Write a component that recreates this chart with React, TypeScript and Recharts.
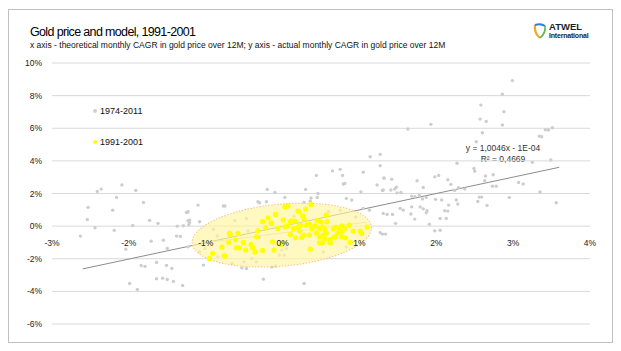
import { ScatterChart, Scatter, XAxis, YAxis, CartesianGrid, ReferenceLine } from 'recharts'

// axis ticks, in percent
const X_TICKS = [-3, -2, -1, 0, 1, 2, 3, 4]
const Y_TICKS = [-6, -4, -2, 0, 2, 4, 6, 8, 10]

// 1974-2011: [theoretical CAGR %, actual CAGR %]
const ALL_POINTS: [number, number][] = [
  [2.99, 8.92], [2.86, 8.08], [2.58, 7.42], [2.88, 7.01], [2.57, 6.56], [2.65, 6.42], [1.93, 6.24],
  [2.86, 6.2], [1.63, 5.95], [3.42, 5.91], [3.46, 5.89], [3.51, 6.03], [2.6, 5.72], [3.34, 5.52],
  [3.37, 5.48], [2.52, 5.17], [3.49, 4.05], [3.25, 3.91], [2.27, 3.85], [1.27, 3.7], [2.49, 3.54],
  [2.5, 3.37], [2.03, 3.11], [1.98, 3.02], [2.74, 3.15], [2.64, 3.07], [1.32, 2.96], [1.42, 2.88],
  [2.63, 2.78], [1.75, 2.78], [2.15, 2.84], [3.07, 2.68], [3.13, 2.58], [1.83, 2.37], [2.19, 2.56],
  [2.78, 2.45], [2.73, 2.45], [1.48, 2.39], [1.46, 2.27], [1.41, 2.21], [1.3, 2.19], [2.29, 2.35],
  [2.37, 2.27], [2.24, 2.19], [1.54, 2.07], [1.49, 2.04], [1.68, 1.84], [1.72, 1.8], [1.78, 1.88],
  [1.87, 1.76], [1.82, 1.67], [1.99, 1.64], [2.56, 1.78], [2.59, 1.78], [2.54, 1.51], [2.95, 1.76],
  [3.35, 2.09], [3.56, 1.43], [2.26, 1.6], [2.28, 1.35], [2.66, 1.27], [2.07, 1.6], [2.16, 1.29],
  [1.79, 1.18], [1.83, 1.06], [1.88, 0.94], [1.87, 0.82], [1.68, 1.18], [1.67, 0.74], [2.11, 0.94],
  [2.15, 0.92], [1.31, 0.78], [1.36, 0.72], [1.43, 0.72], [1.53, 1.09], [1.57, 0.98], [2.05, 0.47],
  [1.72, 0.43], [1.47, 0.17], [2.13, 0.47], [1.91, 0.12], [1.98, -0.29], [1.3, -0.49],
  [-2.09, 2.52], [-2.36, 2.27], [-2.41, 2.13], [-1.91, 2.19], [-2.16, 1.76], [-1.81, 1.45],
  [-2.53, 1.15], [-2.21, 0.98], [-2.54, 0.41], [-1.73, 0.35], [-1.62, 0.17], [-1.95, 0.04],
  [-2.44, -0.1], [-2.19, -0.26], [-2.63, -0.61], [-1.38, -0.61], [-1.33, -0.63], [-1.55, -0.86],
  [-1.71, -0.92], [-1.5, -1.37], [-1.23, -1.27], [-2.04, -1.41], [-1.64, -2.23], [-1.84, -2.41],
  [-1.79, -2.47], [-1.51, -2.41], [-1.44, -2.6], [-1.64, -3.23], [-1.56, -3.19], [-1.5, -3.27],
  [-1.42, -3.39], [-1.99, -3.52], [-1.89, -3.88], [-1.3, -3.64], [-1.24, 0.84], [-1.23, 0.33],
  [-1.22, 0.08], [-1.37, 0.0], [-1.29, 0.02],
  [1.14, 4.25], [1.27, 4.4], [0.44, 3.11], [0.65, 3.39], [0.75, 3.48], [0.78, 3.11], [1.05, 3.31],
  [0.81, 2.62], [1.23, 2.52], [1.32, 2.93], [-0.2, 2.25], [-0.1, 2.07], [0.3, 2.25], [1.02, 2.1],
  [1.31, 2.21], [0.03, 1.76], [0.37, 1.72], [0.45, 1.76], [0.83, 1.7],
  [-1.23, 0.88], [-1.1, 1.29], [-0.75, 1.23], [-0.47, 0.47], [-0.32, 1.49], [-0.21, 1.49],
  [-1.21, 0.37], [-0.9, -0.2], [-1.03, -2.39], [-0.53, -2.56], [-0.66, -2.29], [-1.01, -1.37],
  [-0.84, -1.88], [-0.4, -1.98], [-0.14, -2.5], [-0.04, -1.78], [-0.01, -1.47], [-1.08, 0.27],
  [0.28, 1.45], [0.36, 1.53], [0.9, 1.6], [1.05, 1.09], [1.13, 0.98], [0.01, -0.96], [0.05, -1.37],
  [0.53, -1.58], [0.83, -1.27], [0.02, -1.78], [0.75, 0.98],
  [0.28, -3.52], [-0.25, -3.25], [-0.5, -2.19], [-0.34, -2.19], [-0.47, -2.6], [-1.08, -1.58],
  [-0.09, -2.44], [-0.77, 1.23], [-0.3, 1.43], [0.79, 2.58], [-1.25, 0.84], [-1.21, 0.2],
  [0.46, 2.0], [1.27, -0.41], [1.34, -0.49], [2.05, -0.25],
  [-0.62, 0.35], [-0.45, -0.3], [0.6, 0.9], [0.95, 0.55], [-0.85, -0.6], [0.15, 0.6], [-0.3, -0.7],
]

// 1991-2001 subset
const PERIOD_POINTS: [number, number][] = [
  [-0.26, 0.27], [-0.19, 0.51], [-0.09, 0.72], [-0.14, 0.18], [-0.22, -0.1], [-0.32, -0.29],
  [0.01, 0.37], [-0.06, -0.14], [-0.68, -0.51], [-0.58, -0.45], [-0.61, -0.84], [-0.7, -1.0],
  [-0.51, -1.0], [-0.79, -1.29], [-0.6, -1.33], [-0.56, -1.33], [-0.41, -1.12], [-0.39, -1.33],
  [-0.48, -1.47], [-0.36, -1.58], [-0.26, -1.49], [-0.76, -1.82], [-0.91, -1.67], [-0.95, -1.98],
  [-0.13, -0.96], [-0.11, -1.47], [-0.02, -1.12], [-0.34, -0.66], [-0.69, -0.45], [-0.15, 0.2],
  [-0.75, -1.84],
  [0.2, 0.92], [0.3, 1.04], [0.37, 1.33], [0.26, 0.63], [0.28, 0.43], [0.12, 0.33], [0.16, 0.31],
  [0.1, 0.27], [0.03, -0.04], [0.07, 0.02], [0.14, -0.14], [0.2, -0.08], [0.23, 0.06], [0.31, 0.06],
  [0.38, -0.14], [0.35, 0.12], [0.22, -0.31], [0.28, -0.55], [0.17, -0.72], [0.25, -0.69],
  [0.35, -0.55], [0.1, -0.51], [0.45, 0.35], [0.5, 0.26], [0.57, 0.67], [0.58, 0.26], [0.42, 0.02],
  [0.48, -0.14], [0.52, -0.06], [0.55, -0.2], [0.44, -0.41], [0.48, -0.66], [0.53, -0.55],
  [0.57, -0.41], [0.55, -0.76], [0.62, -0.82], [0.67, -0.67], [0.62, -1.02], [0.48, -1.02],
  [0.52, -1.02], [0.66, -0.18], [0.69, -0.06], [0.74, -0.14], [0.77, 0.02], [0.81, -0.14],
  [0.72, -0.41], [0.77, -0.35], [0.69, -0.66], [0.77, -0.66], [0.82, -0.72], [0.88, -1.0],
  [0.87, 0.06], [0.92, -0.31], [1.01, -0.31], [1.1, -0.06], [1.03, -0.45], [0.36, -1.41],
  [0.03, 1.18], [0.07, 1.23], [0.21, 0.88],
]

// legend entries drawn inside the plot like the original
const LEGEND_ITEMS = [
  { x: -2.44, y: 7.06, label: '1974-2011', color: '#cfcfcf' },
  { x: -2.44, y: 5.15, label: '1991-2001', color: '#ffff00' },
]

// trendline y = 1,0046x - 1E-04 (in %: intercept -0.01)
const TREND_SLOPE = 1.0046
const TREND_INTERCEPT = -0.01
const TREND_X = [-2.6, 3.6]
// fainter trendline of the 1991-2001 subset
const PERIOD_SLOPE = 0.6
const PERIOD_INTERCEPT = -0.41
const PERIOD_TREND_X = [-1.0, 1.1]

const HIGHLIGHT_CENTER = [{ x: -0.01, y: -0.55 }]

const toRows = (pts: [number, number][]) => pts.map(([x, y]) => ({ x, y }))
const allData = toRows(ALL_POINTS)
const periodData = toRows(PERIOD_POINTS)

const FONT = '"Liberation Sans", Arial, sans-serif'

const XTick = (props: any) => {
  const { x, y, payload } = props
  return (
    <text x={x} y={y - 83} textAnchor="middle" dominantBaseline="central" fontSize={8.5} fontFamily={FONT} fill="#222">
      {payload.value}%
    </text>
  )
}

const Logo = () => (
  <div style={{ position: 'absolute', left: 533, top: 22, display: 'flex', alignItems: 'center', fontFamily: FONT }}>
    <svg width={14} height={18} viewBox="0 0 14 18">
      <path d="M2 3 Q1 11 7 16" stroke="#f5a623" strokeWidth={2.2} fill="none" />
      <path d="M2 3 Q8 1 12 4" stroke="#2a7fd4" strokeWidth={2} fill="none" />
      <path d="M12 4 Q13 11 7 16" stroke="#5fb34a" strokeWidth={1.6} fill="none" />
    </svg>
    <div style={{ marginLeft: 2, lineHeight: '9px' }}>
      <div style={{ fontSize: 9.5, fontWeight: 700, color: '#1b1f2a' }}>ATWEL</div>
      <div style={{ fontSize: 7, fontWeight: 700, color: '#1b1f2a', letterSpacing: -0.2 }}>International</div>
    </div>
  </div>
)

export default function App() {
  return (
    <div style={{ position: 'relative', width: 621, height: 351, background: '#fff' }}>
      <style>{'body{margin:0}'}</style>
      <div style={{ position: 'absolute', left: 8, top: 9, width: 605, height: 334, border: '1px solid #c0c0c0', boxSizing: 'border-box' }} />
      <div style={{ position: 'absolute', left: 30, top: 25, fontFamily: FONT, fontSize: 12.5, letterSpacing: -0.65, color: '#000', whiteSpace: 'nowrap' }}>
        Gold price and model, 1991-2001
      </div>
      <div style={{ position: 'absolute', left: 30, top: 40, fontFamily: FONT, fontSize: 8.5, letterSpacing: 0, color: '#111', whiteSpace: 'nowrap' }}>
        x axis - theoretical monthly CAGR in gold price over 12M; y axis - actual monthly CAGR in gold price over 12M
      </div>
      <Logo />
      <div style={{ position: 'absolute', left: 503, top: 143, transform: 'translateX(-50%)', fontFamily: FONT, fontSize: 8.5, lineHeight: '11px', color: '#333', textAlign: 'center', whiteSpace: 'nowrap' }}>
        <div>y = 1,0046x - 1E-04</div>
        <div>R² = 0,4669</div>
      </div>
      <div style={{ position: 'absolute', left: 0, top: 0 }}>
        <ScatterChart width={621} height={351} margin={{ top: 63, right: 31, bottom: 7, left: 8 }}>
          <CartesianGrid vertical={false} stroke="#d9d9d9" />
          <XAxis
            type="number"
            dataKey="x"
            domain={[-3, 4]}
            ticks={X_TICKS}
            axisLine={false}
            tickLine={false}
            tickSize={0}
            height={20}
            tick={<XTick />}
            interval={0}
          />
          <YAxis
            type="number"
            dataKey="y"
            domain={[-6, 10]}
            ticks={Y_TICKS}
            width={44}
            axisLine={false}
            tickLine={false}
            tickSize={0}
            tickMargin={10}
            tickFormatter={(v) => `${v}%`}
            tick={{ fontSize: 8.5, fill: '#222', fontFamily: FONT }}
            interval={0}
          />
          <Scatter
            data={allData}
            isAnimationActive={false}
            shape={(p: any) => <circle cx={p.cx} cy={p.cy} r={1.7} fill="#cdcdcd" />}
          />
          <ReferenceLine
            segment={TREND_X.map((x) => ({ x, y: TREND_SLOPE * x + TREND_INTERCEPT }))}
            stroke="#8c8c8c"
            strokeWidth={1}
          />
          <Scatter
            data={HIGHLIGHT_CENTER}
            isAnimationActive={false}
            shape={(p: any) => (
              <ellipse
                cx={p.cx}
                cy={p.cy}
                rx={90}
                ry={31}
                transform={`rotate(-5.3 ${p.cx} ${p.cy})`}
                fill="#fff5a0"
                fillOpacity={0.65}
                stroke="#f6c48f"
                strokeWidth={1}
                strokeDasharray="1.5 1.5"
              />
            )}
          />
          <Scatter
            data={periodData}
            isAnimationActive={false}
            shape={(p: any) => <circle cx={p.cx} cy={p.cy} r={2.6} fill="#ffff00" />}
          />
          <ReferenceLine
            segment={PERIOD_TREND_X.map((x) => ({ x, y: PERIOD_SLOPE * x + PERIOD_INTERCEPT }))}
            stroke="#f7cf9a"
            strokeWidth={1}
          />
          <Scatter
            data={LEGEND_ITEMS}
            isAnimationActive={false}
            shape={(p: any) => (
              <g>
                <circle cx={p.cx} cy={p.cy} r={2} fill={p.payload.color} />
                <text x={p.cx + 5} y={p.cy} dominantBaseline="central" fontSize={9} fontFamily={FONT} fill="#111">
                  {p.payload.label}
                </text>
              </g>
            )}
          />
        </ScatterChart>
      </div>
    </div>
  )
}
